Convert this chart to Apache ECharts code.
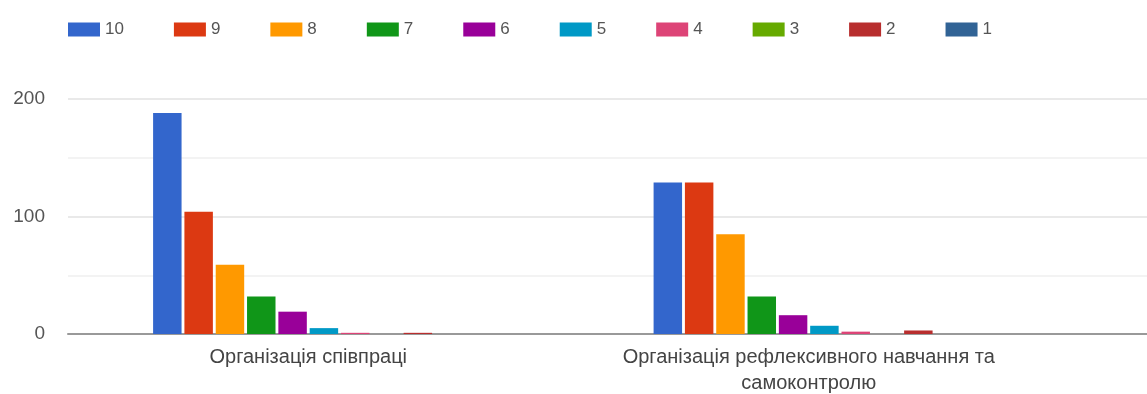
<!DOCTYPE html>
<html>
<head>
<meta charset="utf-8">
<script src="https://cdn.jsdelivr.net/npm/echarts@6/dist/echarts.min.js"></script>
<style>
  html, body { margin: 0; padding: 0; background: #fff; }
  #chart { width: 1147px; height: 394px; }
</style>
</head>
<body>
<div id="chart"></div>
<script>
// categories and scores (10..1)
var categories = ['Організація співпраці', 'Організація рефлексивного навчання та самоконтролю'];
var seriesNames = ['10', '9', '8', '7', '6', '5', '4', '3', '2', '1'];
var seriesValues = [
  [188, 129],  // 10
  [104, 129],  // 9
  [59, 85],    // 8
  [32, 32],    // 7
  [19, 16],    // 6
  [5, 7],      // 5
  [1, 2],      // 4
  [0, 0],      // 3
  [1, 3],      // 2
  [0, 0]       // 1
];
var yTicks = [0, 100, 200];

var colors = ['#3366cc', '#dc3912', '#ff9900', '#109618', '#990099', '#0099c6', '#dd4477', '#66aa00', '#b82e2e', '#316395'];

// simple word wrap for the long category name
function wrap(text, maxChars) {
  var words = text.split(' ');
  var lines = [];
  var cur = '';
  words.forEach(function (w) {
    if (cur && (cur + ' ' + w).length > maxChars) {
      lines.push(cur);
      cur = w;
    } else {
      cur = cur ? cur + ' ' + w : w;
    }
  });
  if (cur) lines.push(cur);
  return lines.join('\n');
}

var series = [];
for (var i = 0; i < seriesNames.length; i++) {
  series.push({
    name: seriesNames[i],
    type: 'bar',
    xAxisIndex: 1,
    yAxisIndex: 1,
    barGap: '10%',
    barCategoryGap: '38%',
    itemStyle: { color: colors[i] },
    data: seriesValues[i]
  });
}

var option = {
  animation: false,
  color: colors,
  textStyle: { fontFamily: 'Liberation Sans, Arial, sans-serif' },
  legend: {
    left: 63,
    top: 16,
    itemWidth: 32,
    itemHeight: 14,
    itemGap: 50,
    icon: 'rect',
    textStyle: { color: '#555', fontSize: 17 },
    data: seriesNames
  },
  grid: [
    // background grid: gridlines and baseline run full width
    { left: 68, right: 0, top: 99, bottom: 60, outerBoundsMode: 'none' },
    // bars
    { left: 58, right: 88, top: 99, bottom: 60, outerBoundsMode: 'none' }
  ],
  xAxis: [
    {
      gridIndex: 0,
      type: 'category',
      data: [''],
      axisLine: { show: true, lineStyle: { color: '#999', width: 2 } },
      axisTick: { show: false },
      axisLabel: { show: false }
    },
    {
      gridIndex: 1,
      type: 'category',
      data: categories,
      axisLine: { show: false },
      axisTick: { show: false },
      axisLabel: {
        interval: 0,
        color: '#444',
        fontSize: 20,
        margin: 10,
        lineHeight: 26,
        formatter: function (v) { return wrap(v, 40); }
      }
    }
  ],
  yAxis: [
    {
      gridIndex: 0,
      type: 'value',
      min: yTicks[0],
      max: yTicks[yTicks.length - 1],
      interval: 100,
      axisLine: { show: false },
      axisTick: { show: false },
      axisLabel: { color: '#555', fontSize: 19, margin: 23 },
      splitLine: { lineStyle: { color: '#e2e2e2', width: 1.5 } },
      minorTick: { show: false, splitNumber: 2 },
      minorSplitLine: { show: true, lineStyle: { color: '#f0f0f0', width: 1.5 } }
    },
    {
      gridIndex: 1,
      type: 'value',
      min: yTicks[0],
      max: yTicks[yTicks.length - 1],
      show: false
    }
  ],
  series: series
};

var myChart = echarts.init(document.getElementById('chart'));
myChart.setOption(option);
</script>
</body>
</html>
